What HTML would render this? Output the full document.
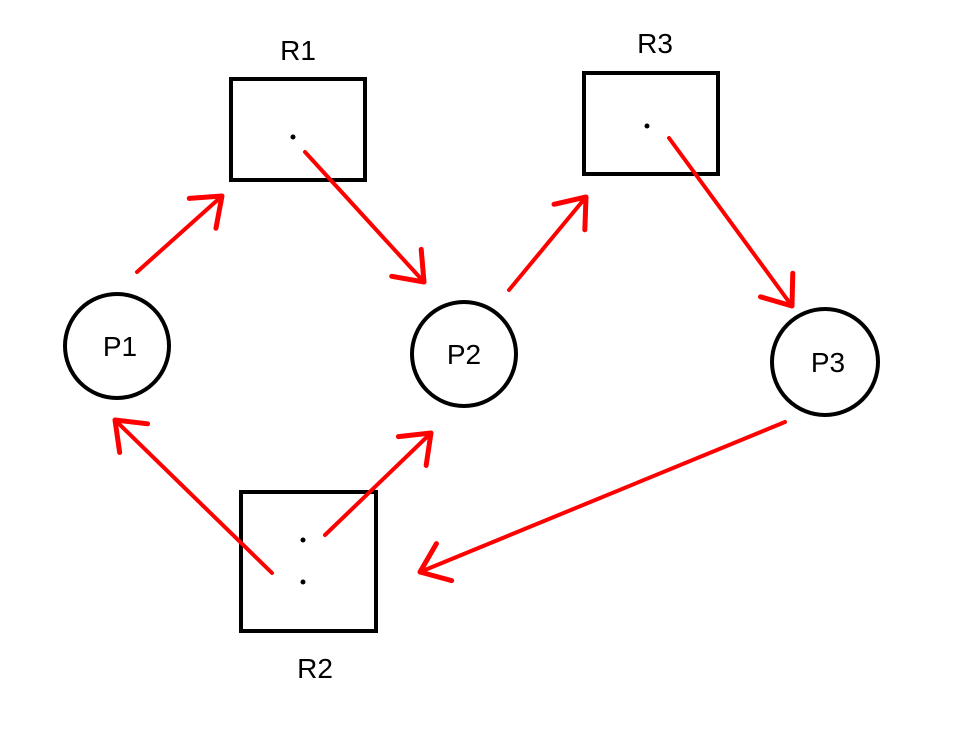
<!DOCTYPE html>
<html><head><meta charset="utf-8"><style>
html,body{margin:0;padding:0;background:#fff;}
svg{display:block;}
text{font-family:"Liberation Sans",sans-serif;font-size:28px;fill:#000;}
</style></head><body>
<svg width="960" height="752" viewBox="0 0 960 752">
<defs>
<marker id="a" markerUnits="userSpaceOnUse" markerWidth="60" markerHeight="60" refX="30" refY="30" orient="auto" viewBox="0 0 60 60">
<path d="M4,10 L30,30 L4,50" fill="none" stroke="#f00" stroke-width="5" stroke-linecap="round" stroke-linejoin="round"/>
</marker>
</defs>
<g fill="none" stroke="#000" stroke-width="4">
<rect x="231" y="79" width="134" height="101"/>
<rect x="584" y="73" width="134" height="101"/>
<rect x="241" y="492" width="135" height="139"/>
<circle cx="117" cy="346" r="52"/>
<circle cx="464" cy="354" r="52"/>
<circle cx="825" cy="362" r="53"/>
</g>
<g fill="#000">
<circle cx="293" cy="137" r="2.5"/>
<circle cx="647" cy="126" r="2.5"/>
<circle cx="303" cy="540" r="2.5"/>
<circle cx="303" cy="582" r="2.5"/>
</g>
<text x="298" y="60" text-anchor="middle">R1</text>
<text x="655" y="53" text-anchor="middle">R3</text>
<text x="315" y="678" text-anchor="middle">R2</text>
<text x="120" y="356" text-anchor="middle">P1</text>
<text x="464" y="364" text-anchor="middle">P2</text>
<text x="828" y="372" text-anchor="middle">P3</text>
<g stroke="#f00" stroke-width="4" stroke-linecap="round" marker-end="url(#a)">
<line x1="137" y1="272" x2="222" y2="196"/>
<line x1="305" y1="152" x2="424" y2="282"/>
<line x1="509" y1="290" x2="586" y2="197"/>
<line x1="669" y1="138" x2="792" y2="306"/>
<line x1="272" y1="573" x2="115" y2="420"/>
<line x1="325" y1="535" x2="431" y2="433"/>
<line x1="785" y1="422" x2="420" y2="572"/>
</g>
</svg>
</body></html>
